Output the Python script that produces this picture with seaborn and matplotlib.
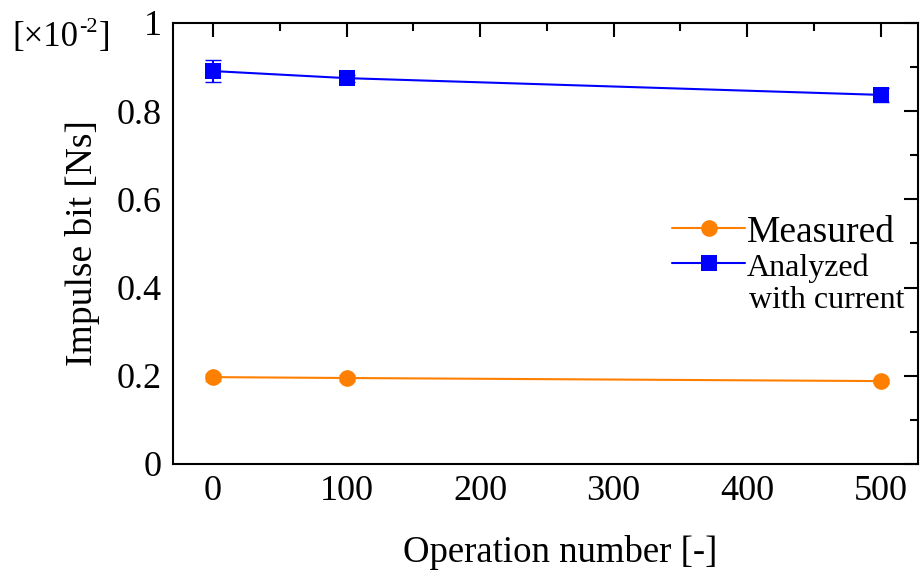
import matplotlib
matplotlib.use("Agg")
import matplotlib.pyplot as plt
from matplotlib.ticker import MultipleLocator, FuncFormatter
import seaborn as sns
import pandas as pd

operation = [0, 100, 500]
measured = [0.197, 0.195, 0.188]
measured_err = [0.008, 0.006, 0.005]
analyzed = [0.891, 0.875, 0.837]
analyzed_err = [0.024, 0.008, 0.016]

sns.set_theme(style="white")
plt.rcParams["font.family"] = ["Liberation Serif", "DejaVu Serif"]
plt.rcParams["text.color"] = "black"
plt.rcParams["axes.labelcolor"] = "black"
plt.rcParams["xtick.color"] = "black"
plt.rcParams["ytick.color"] = "black"

df = pd.DataFrame({
    "op": operation * 2,
    "val": measured + analyzed,
    "series": ["Measured"] * 3 + ["Analyzed"] * 3,
})

W, H = 921, 581
fig = plt.figure(figsize=(W / 100, H / 100), dpi=100)
ax = fig.add_axes([173 / W, 1 - 464 / H, (918 - 173) / W, (464 - 23) / H])

orange = "#ff7f00"
blue = "#0000ff"
sns.lineplot(data=df, x="op", y="val", hue="series", style="series",
             palette=[orange, blue], markers=["o", "s"], dashes=False,
             markersize=12, markeredgewidth=0, linewidth=1.5, ax=ax)
ax.errorbar(operation, measured, yerr=measured_err, fmt="none",
            ecolor=orange, elinewidth=1.5, capsize=6)
ax.errorbar(operation, analyzed, yerr=analyzed_err, fmt="none",
            ecolor=blue, elinewidth=1.5, capsize=6)

ax.set_xlim(-30, 528)
ax.set_ylim(0, 1)
ax.xaxis.set_major_locator(MultipleLocator(100))
ax.xaxis.set_minor_locator(MultipleLocator(50))
ax.yaxis.set_major_locator(MultipleLocator(0.2))
ax.yaxis.set_minor_locator(MultipleLocator(0.1))
ax.yaxis.set_major_formatter(FuncFormatter(lambda v, p: f"{v:g}"))
ax.tick_params(which="both", direction="in", top=True, right=True,
               width=1.5, color="black", labelsize=26, pad=8)
ax.tick_params(which="major", length=10)
ax.tick_params(which="minor", length=6)
for s in ax.spines.values():
    s.set_color("black")
    s.set_linewidth(1.5)

ax.set_xlabel("Operation number [-]", fontsize=26.5)
ax.xaxis.set_label_coords((560 - 173) / (918 - 173), -(553 - 464) / (464 - 23))
ax.xaxis.label.set_va("center")
ax.set_ylabel("Impulse bit [Ns]", fontsize=27, labelpad=12)

# scale factor label: "[×10" + raised "-2" + "]"
renderer = fig.canvas.get_renderer()
base_y = 1 - 46 / H
t1 = fig.text(12 / W, base_y, "[×10", fontsize=25, va="baseline", ha="left")
x1 = t1.get_window_extent(renderer).x1 / W
t2 = fig.text(x1 + 1 / W, base_y + 14 / H, "-2", fontsize=16,
              va="baseline", ha="left")
x2 = t2.get_window_extent(renderer).x1 / W
fig.text(x2 + 1 / W, base_y, "]", fontsize=25, va="baseline", ha="left")

leg = ax.legend(loc="upper left", bbox_to_anchor=(672 / W, 1 - 215 / H),
                bbox_transform=fig.transFigure, frameon=False,
                prop={"size": 27}, handlelength=1.95, handletextpad=0.05,
                borderpad=0, borderaxespad=0, labelspacing=0.0)
texts = leg.get_texts()
texts[1].set_fontsize(23)
fig.text(749 / W, 1 - 300 / H, "with current", fontsize=23,
         va="center", ha="left")

fig.savefig("out.png", dpi=100)
